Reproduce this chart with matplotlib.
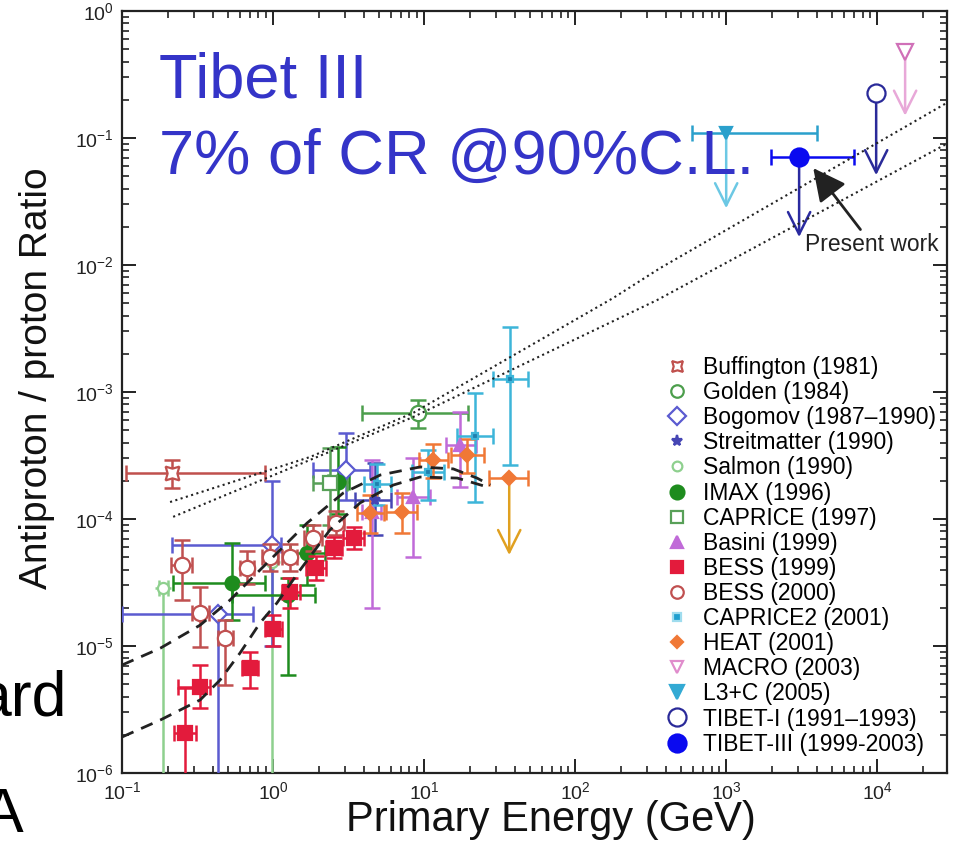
import numpy as np
import matplotlib.pyplot as plt
from matplotlib.lines import Line2D

plt.rcParams['font.family'] = ['Liberation Sans', 'DejaVu Sans']
plt.rcParams['mathtext.default'] = 'regular'

# ---- measurements: energy (GeV), pbar/p ratio, and the ends of the error bars ----
buff_E, buff_R = [0.214], [2.3e-4]
buff_Elo, buff_Ehi = [0.107], [0.885]
buff_Rlo, buff_Rhi = [1.75e-4], [2.92e-4]

golden_E, golden_R = [9.1], [6.84e-4]
golden_Elo, golden_Ehi = [3.88], [19.5]
golden_Rlo, golden_Rhi = [5.21e-4], [8.65e-4]

bogo_E, bogo_R = [0.43, 0.985, 3.04], [1.8e-5, 6.2e-5, 2.43e-4]
bogo_Elo, bogo_Ehi = [0.1, 0.214, 1.84], [0.738, 1.13, 4.39]
bogo_Rlo, bogo_Rhi = [5e-7, 1.0e-5, 1.41e-4], [1.8e-5, 2.0e-4, 4.75e-4]

streit_E, streit_R = [4.7], [1.4e-4]
streit_Elo, streit_Ehi = [3.5], [6.0]
streit_Rlo, streit_Rhi = [7.5e-5], [2.75e-4]

salmon_E, salmon_R = [0.187, 0.98], [2.86e-5, 4.6e-5]
salmon_Elo, salmon_Ehi = [0.176, 0.96], [0.2, 1.0]
salmon_Rlo, salmon_Rhi = [5e-7, 5e-7], [2.86e-5, 4.6e-5]

imax_E, imax_R = [0.535, 1.26, 1.68, 2.69], [3.13e-5, 2.52e-5, 5.4e-5, 1.95e-4]
imax_Elo, imax_Ehi = [0.218, 0.535, 1.3, 2.3], [0.885, 1.9, 2.2, 3.2]
imax_Rlo, imax_Rhi = [1.6e-5, 5.9e-6, 3.0e-5, 1.1e-4], [6.47e-5, 3.4e-5, 8.97e-5, 3.69e-4]

caprice_E, caprice_R = [2.38], [1.92e-4]
caprice_Elo, caprice_Ehi = [1.84], [3.1]
caprice_Rlo, caprice_Rhi = [9e-5], [3.6e-4]

basini_E, basini_R = [4.5, 8.45, 17.3], [1.13e-4, 1.49e-4, 3.83e-4]
basini_Elo, basini_Ehi = [3.9, 6.6, 14.0], [5.2, 11.0, 22.0]
basini_Rlo, basini_Rhi = [2.0e-5, 5.0e-5, 1.79e-4], [2.92e-4, 3.02e-4, 6.97e-4]

bess99_E = [0.261, 0.329, 0.705, 1.0, 1.30, 1.93, 2.53, 3.44]
bess99_R = [2.07e-6, 4.75e-6, 6.7e-6, 1.36e-5, 2.66e-5, 4.11e-5, 5.9e-5, 7.1e-5]
bess99_Elo = [0.222, 0.235, 0.62, 0.88, 1.14, 1.65, 2.25, 2.9]
bess99_Ehi = [0.31, 0.383, 0.8, 1.14, 1.5, 2.25, 2.85, 4.0]
bess99_Rlo = [5e-7, 3.24e-6, 4.7e-6, 1.0e-5, 2.0e-5, 3.3e-5, 4.9e-5, 5.8e-5]
bess99_Rhi = [4.7e-6, 7.1e-6, 9.0e-6, 1.75e-5, 3.4e-5, 5.1e-5, 7.2e-5, 8.7e-5]

bess00_E = [0.249, 0.329, 0.48, 0.673, 0.955, 1.30, 1.84, 2.61]
bess00_R = [4.34e-5, 1.82e-5, 1.16e-5, 4.11e-5, 5.0e-5, 5.0e-5, 7.1e-5, 9.3e-5]
bess00_Elo = [0.21, 0.29, 0.43, 0.6, 0.85, 1.15, 1.6, 2.3]
bess00_Ehi = [0.29, 0.375, 0.54, 0.75, 1.07, 1.45, 2.1, 2.95]
bess00_Rlo = [2.3e-5, 9.9e-6, 4.9e-6, 3.1e-5, 3.9e-5, 3.9e-5, 5.6e-5, 7.5e-5]
bess00_Rhi = [6.8e-5, 2.9e-5, 1.6e-5, 5.6e-5, 6.3e-5, 6.3e-5, 9.0e-5, 1.15e-4]

cap2_E, cap2_R = [4.9, 10.6, 21.8, 37.2], [1.9e-4, 2.34e-4, 4.5e-4, 1.27e-3]
cap2_Elo, cap2_Ehi = [4.0, 8.3, 16.5, 28.6], [6.0, 13.5, 28.6, 48.9]
cap2_Rlo, cap2_Rhi = [1.3e-4, 1.4e-4, 1.36e-4, 2.66e-4], [2.7e-4, 3.5e-4, 9.8e-4, 3.25e-3]

heat_E, heat_R = [4.38, 7.14, 11.5, 19.3], [1.11e-4, 1.13e-4, 2.9e-4, 3.19e-4]
heat_Elo, heat_Ehi = [3.6, 5.6, 9.3, 15.0], [5.4, 9.0, 14.5, 25.0]
heat_Rlo, heat_Rhi = [7.8e-5, 7.7e-5, 2.1e-4, 2.3e-4], [1.55e-4, 1.6e-4, 3.9e-4, 4.3e-4]
# HEAT highest bin is an upper limit
heat_ul_E, heat_ul_R, heat_ul_end = 36.6, 2.1e-4, 5.2e-5
heat_ul_Elo, heat_ul_Ehi = 27.0, 49.0

# upper limits at high energy
macro_E, macro_R, macro_end = 1.53e4, 0.475, 0.15
l3c_E, l3c_R, l3c_end = 1000.0, 0.109, 0.028
l3c_Elo, l3c_Ehi = 596.0, 4010.0
tibet1_E, tibet1_R, tibet1_end = 9840.0, 0.226, 0.051
tibet3_E, tibet3_R, tibet3_end = 3040.0, 0.0709, 0.0166
tibet3_Elo, tibet3_Ehi = 1990.0, 7050.0

# model curves
dashA_E = [0.1, 0.179, 0.329, 0.519, 0.82, 1.68, 2.91, 5.12, 9.4, 15.6, 22.4, 27.4]
dashA_R = [7.08e-6, 9.6e-6, 1.46e-5, 2.3e-5, 3.97e-5, 9.3e-5, 1.6e-4, 2.22e-4, 2.57e-4, 2.48e-4, 2.1e-4, 1.85e-4]
dashB_E = [0.1, 0.179, 0.329, 0.446, 0.604, 0.82, 1.06, 1.51, 2.38, 3.77, 6.24, 9.4, 16.6, 26.1]
dashB_R = [1.92e-6, 2.61e-6, 3.76e-6, 5.4e-6, 8.8e-6, 1.52e-5, 2.18e-5, 3.97e-5, 8.2e-5, 1.34e-4, 1.85e-4, 2.14e-4, 2.1e-4, 1.79e-4]
dotA_E = [0.208, 1.76, 8.45, 178.6, 366.0, 29500.0]
dotA_R = [1.36e-4, 3.08e-4, 6.84e-4, 5.5e-3, 9.47e-3, 0.192]
dotB_E = [0.218, 1.76, 8.45, 349.0, 29500.0]
dotB_R = [1.04e-4, 2.92e-4, 6.35e-4, 5.3e-3, 0.0914]

fig = plt.figure(figsize=(9.61, 8.51), dpi=100)
ax = fig.add_axes([0.127, 0.0917, 0.8585, 0.8953])
ax.set_xscale('log')
ax.set_yscale('log')
ax.set_xlim(0.1, 2.9e4)
ax.set_ylim(1e-6, 1)


def points(E, R, Elo, Ehi, Rlo, Rhi, color, marker, ms, mfc=None, z=3):
    E, R = np.array(E), np.array(R)
    xerr = [E - np.array(Elo), np.array(Ehi) - E]
    yerr = [R - np.array(Rlo), np.array(Rhi) - R]
    ax.errorbar(E, R, xerr=xerr, yerr=yerr, fmt='none', ecolor=color, elinewidth=1.8,
                capsize=6, capthick=1.8, zorder=z)
    ax.plot(E, R, ls='none', marker=marker, ms=ms, mec=color,
            mfc=color if mfc is None else mfc, mew=1.6, zorder=z + 0.5)


def limit(E, R, end, color, marker, ms, mfc=None, Elo=None, Ehi=None, acolor=None):
    ax.annotate('', xy=(E, end), xytext=(E, R),
                arrowprops=dict(arrowstyle='->,head_length=0.8,head_width=0.4',
                                color=acolor or color, lw=1.8, mutation_scale=20,
                                shrinkA=0, shrinkB=0), zorder=4)
    if Elo is not None:
        ax.errorbar([E], [R], xerr=[[E - Elo], [Ehi - E]], fmt='none', ecolor=color,
                    elinewidth=1.8, capsize=6, capthick=1.8, zorder=5)
    ax.plot([E], [R], ls='none', marker=marker, ms=ms, mec=color,
            mfc=color if mfc is None else mfc, mew=1.6, zorder=5.5)


# model curves
ax.plot(dotA_E, dotA_R, ':', color='#222222', lw=1.5, zorder=6)
ax.plot(dotB_E, dotB_R, ':', color='#222222', lw=1.5, zorder=6)
ax.plot(dashA_E, dashA_R, '--', color='#222222', lw=2, dashes=(4.5, 3), zorder=6)
ax.plot(dashB_E, dashB_R, '--', color='#222222', lw=2, dashes=(4.5, 3), zorder=6)

c_buff, c_gold, c_bogo, c_streit = '#c0504d', '#4c9e4c', '#5b5bd0', '#4646b4'
c_salm, c_imax, c_capr, c_bas = '#8ed08e', '#1e8c1e', '#58a058', '#c06ad8'
c_b99, c_b00, c_cap2, c_heat = '#e31b3c', '#c05050', '#3db5d9', '#f07836'
c_macro, c_l3c, c_t1, c_t3 = '#e08ccc', '#33aad4', '#2a2a99', '#0a0af0'

points(salmon_E, salmon_R, salmon_Elo, salmon_Ehi, salmon_Rlo, salmon_Rhi, c_salm, 'o', 8, 'white')
points(bogo_E, bogo_R, bogo_Elo, bogo_Ehi, bogo_Rlo, bogo_Rhi, c_bogo, 'D', 9, 'white')
points(streit_E, streit_R, streit_Elo, streit_Ehi, streit_Rlo, streit_Rhi, c_streit, '*', 8)
points(buff_E, buff_R, buff_Elo, buff_Ehi, buff_Rlo, buff_Rhi, c_buff, (4, 1, 45), 14, 'white')
points(golden_E, golden_R, golden_Elo, golden_Ehi, golden_Rlo, golden_Rhi, c_gold, 'o', 11, 'white')
points(imax_E, imax_R, imax_Elo, imax_Ehi, imax_Rlo, imax_Rhi, c_imax, 'o', 10)
points(caprice_E, caprice_R, caprice_Elo, caprice_Ehi, caprice_Rlo, caprice_Rhi, c_capr, 's', 10, 'white')
points(basini_E, basini_R, basini_Elo, basini_Ehi, basini_Rlo, basini_Rhi, c_bas, '^', 9)
points(cap2_E, cap2_R, cap2_Elo, cap2_Ehi, cap2_Rlo, cap2_Rhi, c_cap2, 's', 5, '#1f7fae')
points(heat_E, heat_R, heat_Elo, heat_Ehi, heat_Rlo, heat_Rhi, c_heat, 'D', 7)
points(bess00_E, bess00_R, bess00_Elo, bess00_Ehi, bess00_Rlo, bess00_Rhi, c_b00, 'o', 11, 'white', z=4)
points(bess99_E, bess99_R, bess99_Elo, bess99_Ehi, bess99_Rlo, bess99_Rhi, c_b99, 's', 10, z=4)

limit(heat_ul_E, heat_ul_R, heat_ul_end, c_heat, 'D', 7, Elo=heat_ul_Elo, Ehi=heat_ul_Ehi, acolor='#e0a020')
limit(macro_E, macro_R, macro_end, '#d070b8', 'v', 11, 'white', acolor='#e8a8d8')
limit(l3c_E, l3c_R, l3c_end, '#2aa0cc', 'v', 9, Elo=l3c_Elo, Ehi=l3c_Ehi, acolor='#6cc8e4')
limit(tibet1_E, tibet1_R, tibet1_end, c_t1, 'o', 13, 'white')
limit(tibet3_E, tibet3_R, tibet3_end, c_t3, 'o', 13, Elo=tibet3_Elo, Ehi=tibet3_Ehi, acolor='#2a2aa0')

ax.annotate('Present work', xy=(3770, 0.058), xytext=(9270, 0.0144),
            ha='center', va='center', fontsize=16.5, color='#222222',
            arrowprops=dict(arrowstyle='-|>,head_length=1.0,head_width=0.5',
                            color='#222222', lw=2, mutation_scale=20,
                            shrinkA=1, shrinkB=0), zorder=7)

# legend, markers only
labels = ['Buffington (1981)', 'Golden (1984)', 'Bogomov (1987\u20131990)',
          'Streitmatter (1990)', 'Salmon (1990)', 'IMAX (1996)', 'CAPRICE (1997)',
          'Basini (1999)', 'BESS (1999)', 'BESS (2000)', 'CAPRICE2 (2001)',
          'HEAT (2001)', 'MACRO (2003)', 'L3+C (2005)', 'TIBET-I (1991\u20131993)',
          'TIBET-III (1999-2003)']
styles = [((4, 1, 45), c_buff, 'white', 11), ('o', c_gold, 'white', 9),
          ('D', c_bogo, 'white', 9), ('*', c_streit, c_streit, 8),
          ('o', c_salm, 'white', 7), ('o', c_imax, c_imax, 10),
          ('s', c_capr, 'white', 9), ('^', c_bas, c_bas, 9),
          ('s', c_b99, c_b99, 9), ('o', c_b00, 'white', 9),
          ('s', '#9fdcee', '#1f9fcf', 6), ('D', c_heat, c_heat, 6),
          ('v', c_macro, 'white', 9), ('v', c_l3c, c_l3c, 10),
          ('o', c_t1, 'white', 13), ('o', c_t3, c_t3, 13)]
handles = [Line2D([], [], ls='none', marker=m, mec=ec, mfc=fc, ms=s, mew=1.6)
           for m, ec, fc, s in styles]
fig.legend(handles, labels, loc='upper left', bbox_to_anchor=(665.5 / 961, 1 - 356 / 851),
           frameon=False, fontsize=16.5, borderpad=0, borderaxespad=0,
           handlelength=1.0, handletextpad=0.64, labelspacing=0.092)

ax.tick_params(which='both', direction='in', top=True, right=True, labelsize=14,
               colors='#222222', pad=6)
ax.tick_params(which='major', length=10, width=1.4)
ax.tick_params(which='minor', length=5, width=1.2)
for s in ax.spines.values():
    s.set_linewidth(1.6)
    s.set_color('#222222')

ax.set_xlabel('Primary Energy (GeV)', fontsize=30, color='#111111')
ax.xaxis.set_label_coords(0.52, -0.036)
ax.set_ylabel('Antiproton / proton Ratio', fontsize=28, color='#111111')
ax.yaxis.set_label_coords(-0.081, 0.518)

fig.text(159 / 961, 1 - 98 / 851, 'Tibet III', fontsize=45.5, color='#3434c8', va='baseline')
fig.text(159 / 961, 1 - 174 / 851, '7% of CR @90%C.L.', fontsize=45.5, color='#3434c8', va='baseline')

# slide text running off the left edge
fig.text(67 / 961, 1 - 715 / 851, 'ard', fontsize=45, color='black', ha='right', va='baseline')
fig.text(-18 / 961, 1 - 832 / 851, 'A', fontsize=45, color='black', ha='left', va='baseline')

fig.savefig('out.png', dpi=100)
